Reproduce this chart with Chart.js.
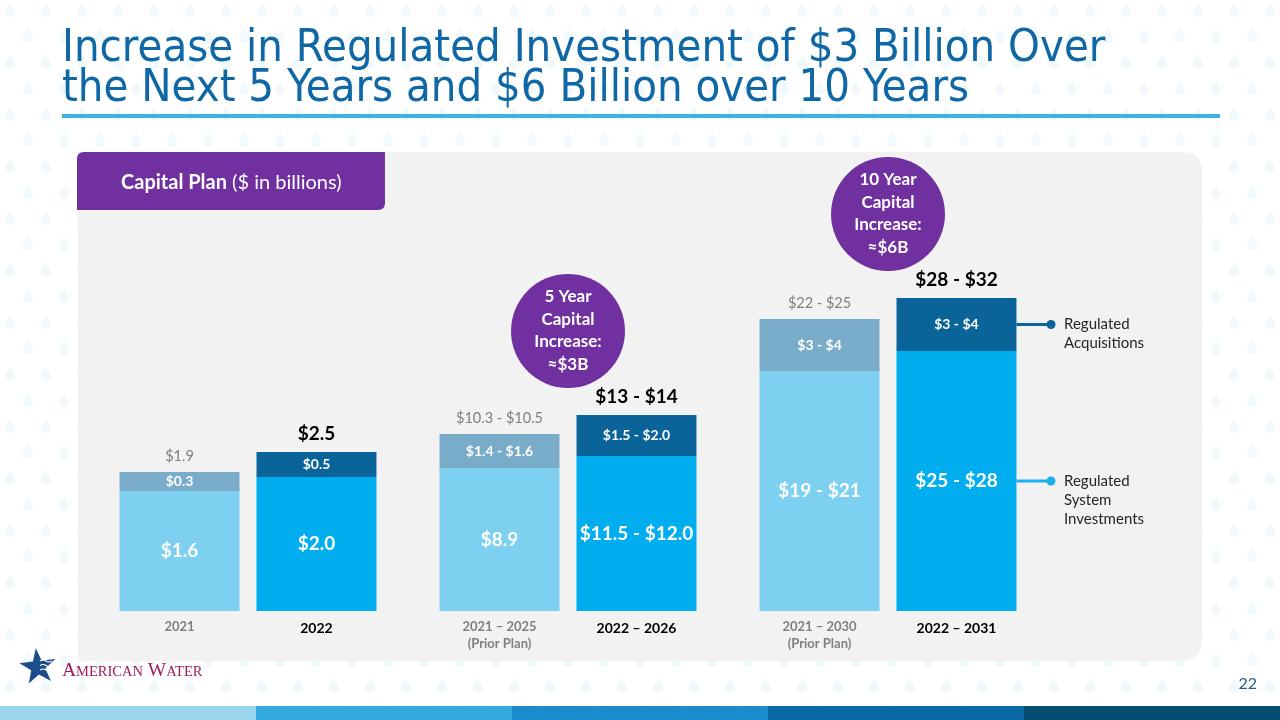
<!DOCTYPE html>
<html>
<head>
<meta charset="utf-8">
<script src="https://cdn.jsdelivr.net/npm/chart.js@4.4.0/dist/chart.umd.min.js"></script>
<style>
html, body { margin: 0; padding: 0; background: #fff; }
#wrap { position: relative; width: 1280px; height: 720px; }
</style>
</head>
<body>
<div id="wrap"><canvas id="capPlan" width="1280" height="720"></canvas></div>
<script>
// periods (one group = prior plan bar + current plan bar)
const periods = ['2021 / 2022', '5 Year', '10 Year'];
const priorLabels = [['2021'], ['2021 \u2013 2025', '(Prior Plan)'], ['2021 \u2013 2030', '(Prior Plan)']];
const currentLabels = [['2022'], ['2022 \u2013 2026'], ['2022 \u2013 2031']];

// bar lengths as drawn on the slide (schematic, not to scale)
const priorSystem = [12.0, 14.3, 24.0];
const priorAcq = [1.9, 3.4, 5.2];
const currentSystem = [13.4, 15.5, 26.0];
const currentAcq = [2.5, 4.1, 5.3];

// value labels ($ in billions)
const priorSystemText = ['$1.6', '$8.9', '$19 - $21'];
const priorAcqText = ['$0.3', '$1.4 - $1.6', '$3 - $4'];
const priorTotalText = ['$1.9', '$10.3 - $10.5', '$22 - $25'];
const currentSystemText = ['$2.0', '$11.5 - $12.0', '$25 - $28'];
const currentAcqText = ['$0.5', '$1.5 - $2.0', '$3 - $4'];
const currentTotalText = ['$2.5', '$13 - $14', '$28 - $32'];

const increaseText = [null, ['5 Year', 'Capital', 'Increase:', '\u2248$3B'], ['10 Year', 'Capital', 'Increase:', '\u2248$6B']];

const seriesNames = ['Regulated Acquisitions', 'Regulated System Investments'];

const FONT = 'Lato, "Open Sans", sans-serif';
const PURPLE = '#7030A0';

function roundRect(c, x, y, w, h, r) {
    // r = [tl, tr, br, bl]
    c.beginPath();
    c.moveTo(x + r[0], y);
    c.lineTo(x + w - r[1], y);
    c.quadraticCurveTo(x + w, y, x + w, y + r[1]);
    c.lineTo(x + w, y + h - r[2]);
    c.quadraticCurveTo(x + w, y + h, x + w - r[2], y + h);
    c.lineTo(x + r[3], y + h);
    c.quadraticCurveTo(x, y + h, x, y + h - r[3]);
    c.lineTo(x, y + r[0]);
    c.quadraticCurveTo(x, y, x + r[0], y);
    c.closePath();
}

function drop(c, x, y) {
    c.beginPath();
    c.moveTo(x, y - 8);
    c.bezierCurveTo(x + 1.5, y - 4, x + 5, y - 1, x + 5, y + 2);
    c.arc(x, y + 2, 5, 0, Math.PI);
    c.bezierCurveTo(x - 5, y - 1, x - 1.5, y - 4, x, y - 8);
    c.fill();
}

const slidePlugin = {
    id: 'slide',
    beforeDraw(chart) {
        const c = chart.ctx;
        c.save();
        c.fillStyle = '#fff';
        c.fillRect(0, 0, 1280, 720);

        // faint water drops
        c.fillStyle = 'rgba(215,237,249,0.35)';
        for (let row = 0; row < 28; row++) {
            const y = 10 + row * 26;
            const off = row % 2 ? 18 : 0;
            for (let x = 10 + off; x < 1290; x += 36) drop(c, x, y);
        }

        // title
        const t1 = 'Increase in Regulated Investment of $3 Billion Over';
        const t2 = 'the Next 5 Years and $6 Billion over 10 Years';
        c.font = '40px "DejaVu Sans Condensed"';
        const size = 40 * 1043 / c.measureText(t1).width;
        c.font = size.toFixed(1) + 'px "DejaVu Sans Condensed"';
        c.fillStyle = '#0F68A5';
        c.textAlign = 'left';
        c.textBaseline = 'alphabetic';
        c.fillText(t1, 62, 61);
        c.fillText(t2, 62, 101);

        // underline
        c.fillStyle = '#3DB0E4';
        c.fillRect(62, 114, 1158, 4);

        // grey panel
        c.fillStyle = '#F2F2F2';
        roundRect(c, 78, 152, 1124, 509, [0, 20, 22, 0]);
        c.fill();

        // purple tab
        c.fillStyle = PURPLE;
        roundRect(c, 77, 152, 308, 58, [7, 0, 7, 0]);
        c.fill();
        c.fillStyle = '#fff';
        c.textBaseline = 'middle';
        c.font = 'bold 20px ' + FONT;
        c.fillText('Capital Plan', 121, 183);
        const w = c.measureText('Capital Plan').width;
        c.font = '20px ' + FONT;
        c.fillText(' ($ in billions)', 121 + w, 183);

        // bottom stripe
        const stripe = ['#9BD6EF', '#33A9E0', '#1B8CCB', '#0B6AA5', '#064D72'];
        stripe.forEach((col, i) => {
            c.fillStyle = col;
            c.fillRect(i * 256, 706, 256, 14);
        });

        // page number
        c.fillStyle = '#1A5F91';
        c.font = '16px ' + FONT;
        c.textAlign = 'right';
        c.fillText('22', 1257, 684);

        // logo
        c.fillStyle = '#1C4C8A';
        c.beginPath();
        for (let k = 0; k < 10; k++) {
            const a = -Math.PI / 2 - 0.12 + k * Math.PI / 5;
            const r = k % 2 ? 7.5 : 19;
            const px = 38 + r * Math.cos(a), py = 667 + r * Math.sin(a);
            k ? c.lineTo(px, py) : c.moveTo(px, py);
        }
        c.closePath();
        c.fill();
        c.strokeStyle = '#fff';
        c.lineWidth = 1.2;
        for (let k = 0; k < 3; k++) {
            c.beginPath();
            const yy = 661 + k * 4.5;
            c.moveTo(40, yy);
            c.quadraticCurveTo(43, yy - 2, 46, yy);
            c.quadraticCurveTo(49, yy + 2, 52, yy);
            c.stroke();
        }
        c.fillStyle = '#A3195B';
        c.textAlign = 'left';
        c.textBaseline = 'alphabetic';
        let lx = 62;
        [['A', 19.5], ['MERICAN', 14.5], [' W', 19.5], ['ATER', 14.5]].forEach(p => {
            c.font = p[1] + 'px "Liberation Serif"';
            c.fillText(p[0], lx, 676);
            lx += c.measureText(p[0]).width;
        });
        c.restore();
    }
};

const labelPlugin = {
    id: 'labels',
    afterDatasetsDraw(chart) {
        const c = chart.ctx;
        const mPriorSys = chart.getDatasetMeta(0).data;
        const mPriorAcq = chart.getDatasetMeta(1).data;
        const mCurSys = chart.getDatasetMeta(2).data;
        const mCurAcq = chart.getDatasetMeta(3).data;
        c.save();
        c.textAlign = 'center';
        c.textBaseline = 'middle';

        for (let i = 0; i < periods.length; i++) {
            const ps = mPriorSys[i], pa = mPriorAcq[i], cs = mCurSys[i], ca = mCurAcq[i];

            // inside labels
            c.fillStyle = '#fff';
            c.font = 'bold 19px ' + FONT;
            c.fillText(priorSystemText[i], ps.x, (ps.y + ps.base) / 2);
            c.fillText(currentSystemText[i], cs.x, (cs.y + cs.base) / 2);
            c.font = 'bold 14px ' + FONT;
            c.fillText(priorAcqText[i], pa.x, (pa.y + pa.base) / 2);
            c.fillText(currentAcqText[i], ca.x, (ca.y + ca.base) / 2);

            // totals
            c.fillStyle = '#7F7F7F';
            c.font = '14.5px ' + FONT;
            c.fillText(priorTotalText[i], pa.x, pa.y - 16);
            c.fillStyle = '#000';
            c.font = 'bold 19px ' + FONT;
            c.fillText(currentTotalText[i], ca.x, ca.y - 18);

            // category labels
            c.fillStyle = '#7F7F7F';
            c.font = 'bold 13px ' + FONT;
            priorLabels[i].forEach((s, k) => c.fillText(s, ps.x, 627 + k * 17));
            c.fillStyle = '#000';
            c.font = 'bold 14px ' + FONT;
            currentLabels[i].forEach((s, k) => c.fillText(s, cs.x, 628 + k * 17));

            // increase bubbles
            if (increaseText[i]) {
                const cx = (ps.x + cs.x) / 2;
                const cy = ca.y - 84;
                c.fillStyle = PURPLE;
                c.beginPath();
                c.arc(cx, cy, 57, 0, Math.PI * 2);
                c.fill();
                c.fillStyle = '#fff';
                c.font = 'bold 17px ' + FONT;
                increaseText[i].forEach((s, k) => c.fillText(s, cx, cy - 34 + k * 22.5));
            }
        }

        // series callouts on the right
        const last = periods.length - 1;
        const ca = mCurAcq[last], cs = mCurSys[last];
        const right = ca.x + ca.width / 2;
        const callouts = [
            { y: (ca.y + ca.base) / 2, col: '#0A6399', lines: ['Regulated', 'Acquisitions'] },
            { y: (cs.y + cs.base) / 2, col: '#1AB0EC', lines: ['Regulated', 'System', 'Investments'] }
        ];
        callouts.forEach(o => {
            c.strokeStyle = o.col;
            c.fillStyle = o.col;
            c.lineWidth = 3;
            c.beginPath();
            c.moveTo(right, o.y);
            c.lineTo(1050, o.y);
            c.stroke();
            c.beginPath();
            c.arc(1051, o.y, 4.5, 0, Math.PI * 2);
            c.fill();
            c.fillStyle = '#262626';
            c.font = '15px ' + FONT;
            c.textAlign = 'left';
            o.lines.forEach((s, k) => c.fillText(s, 1064, o.y + k * 19));
        });
        c.restore();
    }
};

const ctx = document.getElementById('capPlan').getContext('2d');
const capChart = new Chart(ctx, {
    type: 'bar',
    data: {
        labels: periods,
        datasets: [{
            label: seriesNames[1] + ' (prior plan)',
            data: priorSystem,
            stack: 'prior',
            backgroundColor: '#7DD0F0'
        }, {
            label: seriesNames[0] + ' (prior plan)',
            data: priorAcq,
            stack: 'prior',
            backgroundColor: '#79ACC9'
        }, {
            label: seriesNames[1],
            data: currentSystem,
            stack: 'current',
            backgroundColor: '#00AEEF'
        }, {
            label: seriesNames[0],
            data: currentAcq,
            stack: 'current',
            backgroundColor: '#0A6399'
        }]
    },
    options: {
        responsive: false,
        animation: false,
        devicePixelRatio: 1,
        layout: { padding: { left: 88, right: 232, top: 211, bottom: 109 } },
        categoryPercentage: 0.856,
        barPercentage: 0.876,
        scales: {
            x: { display: false, stacked: true },
            y: { display: false, stacked: true, min: 0, max: 40 }
        },
        plugins: {
            legend: { display: false },
            tooltip: { enabled: false }
        }
    },
    plugins: [slidePlugin, labelPlugin]
});
</script>
</body>
</html>
